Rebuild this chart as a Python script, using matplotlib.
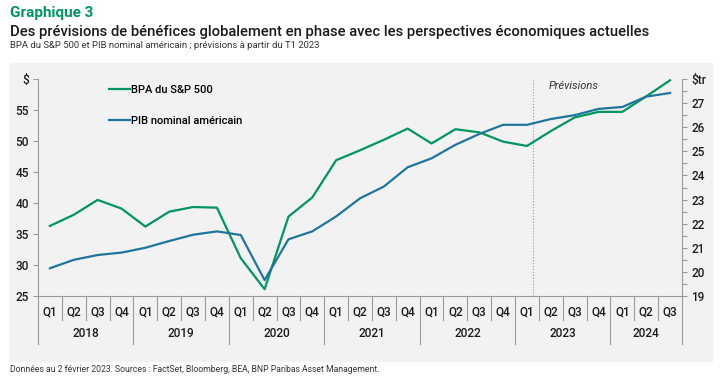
import matplotlib.pyplot as plt
from matplotlib.patches import Rectangle
from matplotlib.lines import Line2D

plt.rcParams['font.family'] = ['Roboto', 'DejaVu Sans']

years = ['2018', '2019', '2020', '2021', '2022', '2023', '2024']
quarters = ['Q1', 'Q2', 'Q3', 'Q4'] * 6 + ['Q1', 'Q2', 'Q3']

# BPA du S&P 500 ($, left axis)
bpa = [36.3, 38.1, 40.5, 39.1, 36.2, 38.6, 39.35, 39.25,
       31.1, 26.1, 37.8, 40.9, 46.9, 48.5, 50.2, 52.0,
       49.6, 51.9, 51.4, 49.9, 49.2, 51.6, 53.8, 54.7,
       54.7, 57.2, 59.8]
# PIB nominal américain ($tr, right axis)
pib = [20.15, 20.5, 20.7, 20.8, 21.0, 21.28, 21.54, 21.68,
       21.53, 19.66, 21.35, 21.68, 22.3, 23.05, 23.54, 24.34,
       24.71, 25.27, 25.72, 26.1, 26.1, 26.34, 26.5, 26.76,
       26.84, 27.27, 27.42]

green = '#00965e'
blue = '#1f759c'
grey = '#9a9a9a'

fig = plt.figure(figsize=(7.25, 3.79), dpi=100)
W, H = 725, 379

# grey panel behind the chart
fig.patches.append(Rectangle((10 / W, 1 - 361 / H), 702 / W, 298 / H,
                             transform=fig.transFigure, color='#f2f2f2', zorder=-10))

fig.text(10 / W, 1 - 13 / H, 'Graphique 3', color=green, fontsize=11,
         fontweight='bold', va='center')
fig.text(10 / W, 1 - 32 / H,
         'Des prévisions de bénéfices globalement en phase avec les perspectives économiques actuelles',
         color='#1a1a1a', fontsize=10.6, va='center', fontweight='medium')
fig.text(10 / W, 1 - 46 / H,
         'BPA du S&P 500 et PIB nominal américain ; prévisions à partir du T1 2023',
         color='#333333', fontsize=6.8, va='center')
fig.text(10 / W, 1 - 370 / H,
         'Données au 2 février 2023. Sources : FactSet, Bloomberg, BEA, BNP Paribas Asset Management.',
         color='#333333', fontsize=6.2, va='center')

ax = fig.add_axes([38 / W, 1 - 296 / H, 644 / W, 217 / H])
ax.patch.set_alpha(0)
ax2 = ax.twinx()
ax2.patch.set_alpha(0)

x = [i + 0.5 for i in range(len(bpa))]
ax.plot(x, bpa, color=green, lw=1.6, zorder=3)
ax2.plot(x, pib, color=blue, lw=1.6, zorder=2)

ax.set_xlim(0, len(bpa))
ax.set_ylim(25, 60)
ax2.set_ylim(19, 28)

ax.set_yticks(range(25, 61, 5))
ax.set_yticklabels([str(v) for v in range(25, 60, 5)] + ['$'], fontweight='medium')
ax2.set_yticks(range(19, 29))
ax2.set_yticklabels([str(v) for v in range(19, 28)] + ['$tr'], fontweight='medium')
ax2.set_yticks([v + 0.5 for v in range(19, 28)], minor=True)

for a in (ax, ax2):
    a.spines['top'].set_visible(False)
    for s in ['left', 'right', 'bottom']:
        a.spines[s].set_color(grey)
        a.spines[s].set_linewidth(0.8)
    a.tick_params(axis='y', colors=grey, labelcolor='#1a1a1a', labelsize=8.5,
                  length=3.5, width=0.8, pad=3)
    a.tick_params(axis='y', which='minor', colors=grey, length=3.5, width=0.8)
    a.set_xticks([])
ax.spines['right'].set_visible(False)
ax2.spines['left'].set_visible(False)
ax2.spines['bottom'].set_visible(False)

# category axis: quarter and year separators
tr = ax.get_xaxis_transform()
for i in range(1, len(bpa)):
    if i % 4 == 0:
        continue
    ax.plot([i, i], [0, -0.11], color=grey, lw=0.8, transform=tr, clip_on=False)
for i in list(range(0, len(bpa), 4)) + [len(bpa)]:
    ax.plot([i, i], [0, -0.22], color=grey, lw=0.8, transform=tr, clip_on=False)
for xi, q in zip(x, quarters):
    ax.text(xi, -0.074, q, transform=tr, ha='center', va='center', fontsize=8.5,
            color='#1a1a1a', fontweight='medium')
for k, yr in enumerate(years):
    start = 4 * k
    end = min(4 * k + 4, len(bpa))
    ax.text((start + end) / 2, -0.175, yr, transform=tr, ha='center', va='center',
            fontsize=8.5, color='#1a1a1a', fontweight='medium')

# forecast marker
ax.axvline(20.75, color=grey, lw=0.8, ls=':', zorder=1)
ax.text(21.4, 0.97, 'Prévisions', transform=tr, fontsize=8, style='italic',
        color='#333333', va='center')

handles = [Line2D([], [], color=green, lw=1.6), Line2D([], [], color=blue, lw=1.6)]
ax2.legend(handles, ['BPA du S&P 500', 'PIB nominal américain'], loc='upper left',
           bbox_to_anchor=(0.095, 1.018), frameon=False, fontsize=8,
           handlelength=1.9, handletextpad=0.1, labelspacing=1.85,
           prop={'size': 8, 'weight': 'medium'})

fig.savefig('out.png', dpi=100)
